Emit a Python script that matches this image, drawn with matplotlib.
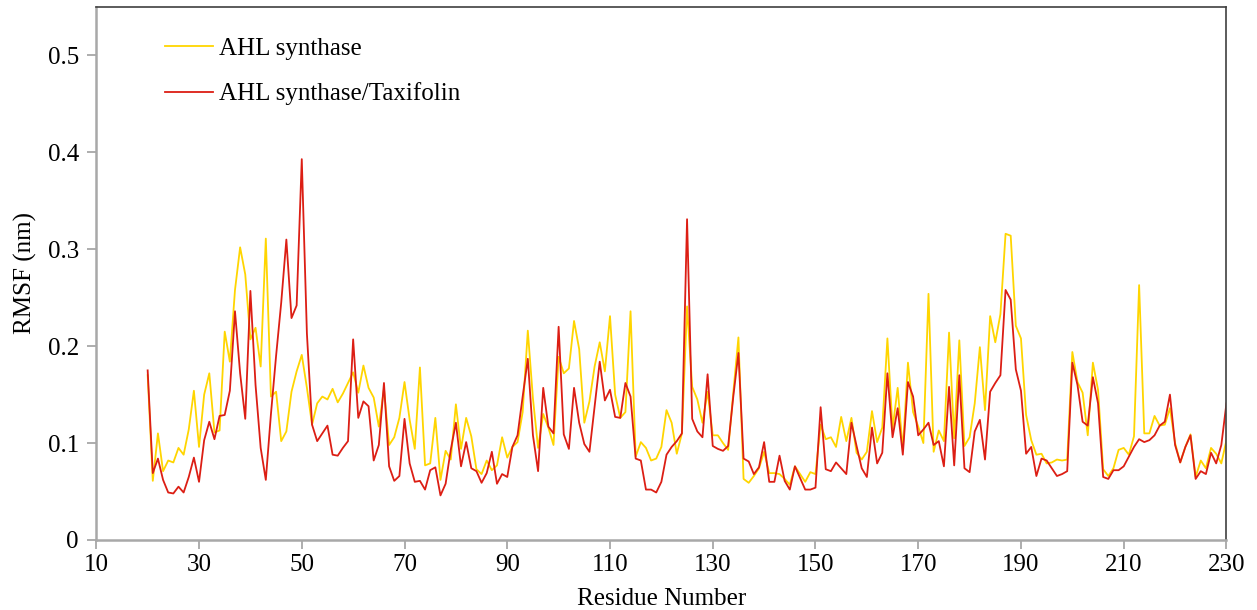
import numpy as np
import matplotlib
matplotlib.use('Agg')
import matplotlib.pyplot as plt

plt.rcParams['font.family'] = ['Liberation Serif', 'DejaVu Serif']

# 残基编号
residues = np.arange(20, 231)

# AHL synthase RMSF (nm)
rmsf_apo = [
    0.170, 0.061, 0.110, 0.071, 0.082, 0.080, 0.095, 0.088, 0.114, 0.154,
    0.096, 0.150, 0.172, 0.111, 0.113, 0.215, 0.184, 0.258, 0.302, 0.274,
    0.207, 0.219, 0.179, 0.311, 0.148, 0.153, 0.102, 0.112, 0.153, 0.174,
    0.191, 0.157, 0.119, 0.141, 0.148, 0.145, 0.156, 0.142, 0.151, 0.162,
    0.173, 0.152, 0.180, 0.157, 0.147, 0.117, 0.156, 0.098, 0.106, 0.126,
    0.163, 0.124, 0.094, 0.178, 0.077, 0.079, 0.126, 0.062, 0.092, 0.083,
    0.140, 0.094, 0.126, 0.107, 0.073, 0.068, 0.082, 0.072, 0.077, 0.106,
    0.085, 0.096, 0.101, 0.132, 0.216, 0.146, 0.095, 0.130, 0.116, 0.098,
    0.189, 0.172, 0.177, 0.226, 0.197, 0.121, 0.143, 0.179, 0.204, 0.174,
    0.231, 0.150, 0.126, 0.132, 0.236, 0.086, 0.101, 0.095, 0.082, 0.084,
    0.096, 0.134, 0.121, 0.089, 0.110, 0.241, 0.158, 0.145, 0.121, 0.153,
    0.108, 0.108, 0.100, 0.093, 0.152, 0.209, 0.063, 0.059, 0.066, 0.074,
    0.091, 0.069, 0.069, 0.068, 0.063, 0.057, 0.076, 0.068, 0.060, 0.070,
    0.068, 0.119, 0.104, 0.106, 0.096, 0.127, 0.102, 0.126, 0.090, 0.083,
    0.091, 0.133, 0.101, 0.116, 0.208, 0.115, 0.157, 0.093, 0.183, 0.132,
    0.117, 0.100, 0.254, 0.091, 0.113, 0.102, 0.214, 0.105, 0.206, 0.097,
    0.106, 0.141, 0.199, 0.134, 0.231, 0.204, 0.233, 0.316, 0.314, 0.221,
    0.208, 0.129, 0.103, 0.088, 0.089, 0.079, 0.080, 0.083, 0.082, 0.083,
    0.194, 0.163, 0.152, 0.108, 0.183, 0.155, 0.073, 0.066, 0.074, 0.093,
    0.095, 0.088, 0.107, 0.263, 0.110, 0.110, 0.128, 0.118, 0.119, 0.136,
    0.100, 0.080, 0.096, 0.109, 0.065, 0.082, 0.074, 0.095, 0.089, 0.079,
    0.103,
]

# AHL synthase/Taxifolin RMSF (nm)
rmsf_complex = [
    0.175, 0.069, 0.084, 0.062, 0.049, 0.048, 0.055, 0.049, 0.065, 0.085,
    0.060, 0.103, 0.122, 0.104, 0.128, 0.129, 0.154, 0.236, 0.172, 0.125,
    0.257, 0.160, 0.095, 0.062, 0.130, 0.190, 0.245, 0.310, 0.229, 0.242,
    0.393, 0.213, 0.119, 0.102, 0.110, 0.118, 0.088, 0.087, 0.095, 0.102,
    0.207, 0.126, 0.143, 0.138, 0.082, 0.098, 0.162, 0.076, 0.061, 0.066,
    0.125, 0.079, 0.060, 0.061, 0.052, 0.072, 0.075, 0.046, 0.058, 0.093,
    0.121, 0.076, 0.101, 0.074, 0.071, 0.059, 0.069, 0.091, 0.058, 0.068,
    0.065, 0.096, 0.108, 0.148, 0.187, 0.108, 0.071, 0.157, 0.117, 0.110,
    0.220, 0.109, 0.094, 0.157, 0.121, 0.099, 0.091, 0.138, 0.184, 0.144,
    0.155, 0.127, 0.126, 0.162, 0.148, 0.084, 0.082, 0.052, 0.052, 0.049,
    0.060, 0.088, 0.096, 0.102, 0.110, 0.331, 0.125, 0.112, 0.106, 0.171,
    0.097, 0.094, 0.092, 0.097, 0.148, 0.193, 0.084, 0.081, 0.068, 0.075,
    0.101, 0.060, 0.060, 0.087, 0.061, 0.052, 0.076, 0.064, 0.052, 0.052,
    0.054, 0.137, 0.073, 0.071, 0.080, 0.074, 0.068, 0.121, 0.097, 0.074,
    0.065, 0.116, 0.079, 0.090, 0.172, 0.106, 0.136, 0.088, 0.163, 0.148,
    0.108, 0.114, 0.121, 0.098, 0.102, 0.076, 0.158, 0.077, 0.170, 0.074,
    0.070, 0.112, 0.124, 0.083, 0.153, 0.162, 0.170, 0.258, 0.248, 0.176,
    0.154, 0.089, 0.096, 0.066, 0.084, 0.082, 0.074, 0.066, 0.068, 0.071,
    0.183, 0.160, 0.122, 0.118, 0.168, 0.141, 0.065, 0.063, 0.072, 0.072,
    0.076, 0.086, 0.096, 0.104, 0.101, 0.103, 0.108, 0.118, 0.122, 0.150,
    0.098, 0.080, 0.096, 0.108, 0.063, 0.071, 0.068, 0.090, 0.079, 0.098,
    0.141,
]

x_ticks = np.arange(10, 231, 20)
y_ticks = [0, 0.1, 0.2, 0.3, 0.4, 0.5]

fig = plt.figure(figsize=(12.57, 6.10), dpi=100)
ax = fig.add_axes([0.0766, 0.1148, 0.8991, 0.8737])

ax.plot(residues, rmsf_apo, color='#FFD500', lw=1.3, label='AHL synthase')
ax.plot(residues, rmsf_complex, color='#DC1E14', lw=1.3, label='AHL synthase/Taxifolin')

ax.set_xlim(10, 230)
ax.set_ylim(0, 0.55)
ax.set_xticks(x_ticks)
ax.set_yticks(y_ticks)
ax.set_yticklabels(['0', '0.1', '0.2', '0.3', '0.4', '0.5'])
ax.tick_params(axis='both', direction='out', length=6.5, width=1.2, color='#a0a0a0',
               labelsize=18)
ax.tick_params(axis='x', pad=3.5)
ax.tick_params(axis='y', pad=6)

for s in ['left', 'bottom']:
    ax.spines[s].set_color('#a8a8a8')
    ax.spines[s].set_linewidth(1.8)
for s in ['top', 'right']:
    ax.spines[s].set_color('#404040')
    ax.spines[s].set_linewidth(1.2)

ax.set_xlabel('Residue Number', fontsize=18, labelpad=9)
ax.set_ylabel('RMSF (nm)', fontsize=18, labelpad=8)

ax.legend(loc='upper left', bbox_to_anchor=(0.061, 0.943), frameon=False, fontsize=18,
          handlelength=1.9, labelspacing=0.9, handletextpad=0.25,
          borderpad=0, borderaxespad=0)

fig.savefig('out.png', dpi=100)
